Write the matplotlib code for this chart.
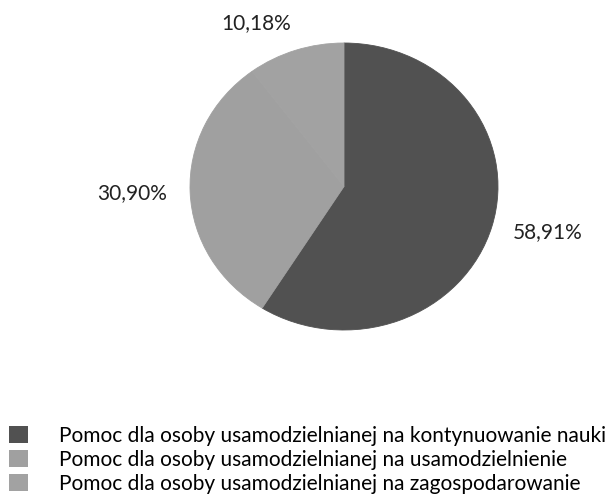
import matplotlib
matplotlib.use("Agg")
import matplotlib.pyplot as plt
from matplotlib.patches import Patch

# data
categories = [
    "Pomoc dla osoby usamodzielnianej na kontynuowanie nauki",
    "Pomoc dla osoby usamodzielnianej na usamodzielnienie",
    "Pomoc dla osoby usamodzielnianej na zagospodarowanie",
]
shares = [58.91, 30.90, 10.18]
pct_labels = ["58,91%", "30,90%", "10,18%"]

COLORS = ["#515151", "#a0a0a0", "#a2a2a2"]
FONT = "Lato"

W, H = 611, 503
fig = plt.figure(figsize=(W / 100, H / 100), dpi=100)

# pie box in pixels (scan is a little squashed vertically)
px_left, px_right, px_top, px_bottom = 190, 498, 43, 330
ax = fig.add_axes([px_left / W, 1 - px_bottom / H,
                   (px_right - px_left) / W, (px_bottom - px_top) / H])
ax.pie(shares, colors=COLORS, startangle=90, counterclock=False,
       wedgeprops=dict(linewidth=0.6, edgecolor=None))
for w, c in zip(ax.patches, COLORS):
    w.set_edgecolor(c)
ax.set_aspect("auto")
ax.set_xlim(-1, 1)
ax.set_ylim(-1, 1)
ax.axis("off")

# label positions in pie units
label_pos = [(1.325, -0.317), (-1.377, -0.045), (-0.571, 1.139)]
for txt, (x, y) in zip(pct_labels, label_pos):
    ax.text(x, y, txt, ha="center", va="center", fontsize=15,
            family=FONT, color="#222222")

handles = [Patch(facecolor=c, edgecolor="none") for c in COLORS]
fig.legend(handles, categories, loc="upper left",
           bbox_to_anchor=(9 / W, 1 - 426 / H), frameon=False,
           prop=dict(family=FONT, size=15), handlelength=0.9,
           handleheight=0.9, handletextpad=1.5, labelspacing=0.18,
           borderpad=0, borderaxespad=0)

fig.savefig("out.png", dpi=100)
